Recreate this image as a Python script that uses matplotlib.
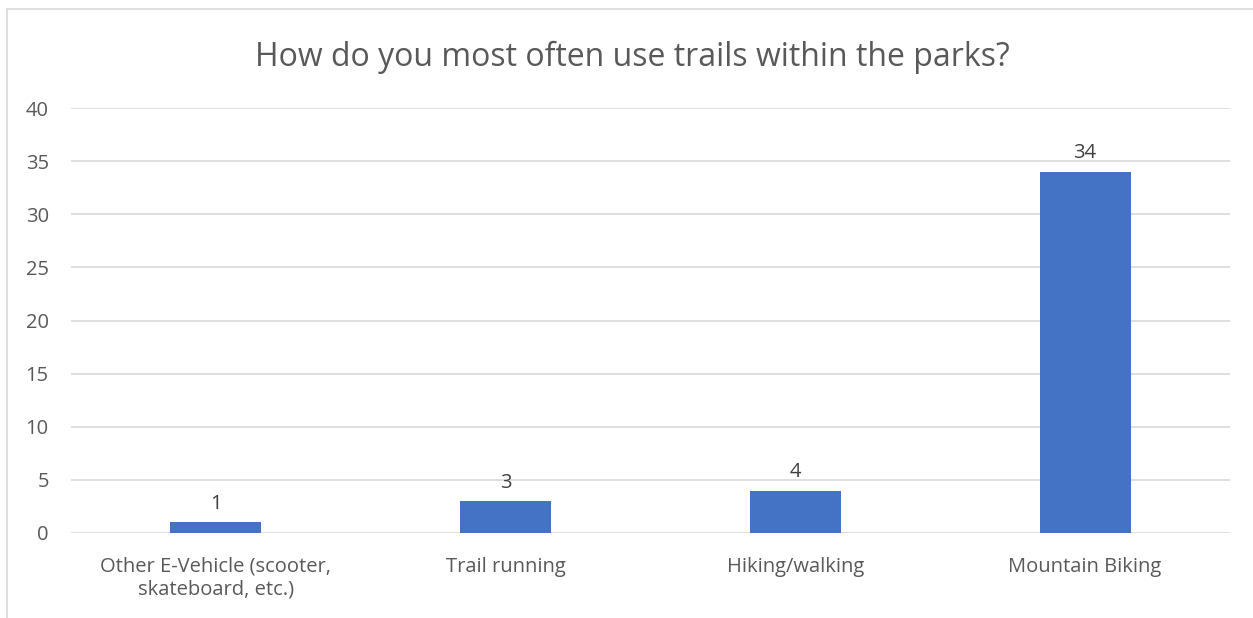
import matplotlib.pyplot as plt
from matplotlib.lines import Line2D

# Données
categories = ["Other E-Vehicle (scooter,\nskateboard, etc.)", "Trail running", "Hiking/walking", "Mountain Biking"]
counts = [1, 3, 4, 34]
y_ticks = [0, 5, 10, 15, 20, 25, 30, 35, 40]

plt.rcParams['font.family'] = ['Open Sans', 'DejaVu Sans']

fig = plt.figure(figsize=(12.53, 6.18), dpi=100)
ax = fig.add_axes([71 / 1253, (618 - 533) / 618, (1230 - 71) / 1253, (533 - 108) / 618])

x = range(len(categories))
bars = ax.bar(x, counts, width=0.314, color="#4472C4", zorder=3)
for b, v in zip(bars, counts):
    ax.text(b.get_x() + b.get_width() / 2, v + 0.8, str(v), ha="center", va="bottom",
            fontsize=14.5, color="#404040")

ax.set_xlim(-0.5, len(categories) - 0.5)
ax.set_ylim(0, 40)
ax.set_yticks(y_ticks)
ax.set_xticks(list(x))
ax.set_xticklabels(categories, fontsize=14.5, color="#595959", linespacing=1.2)
ax.tick_params(axis="y", labelsize=14.5, labelcolor="#595959", length=0, pad=16)
ax.tick_params(axis="x", length=0, pad=17)
ax.grid(axis="y", color="#D9D9D9", linewidth=1.2, zorder=0)
for s in ax.spines.values():
    s.set_visible(False)

fig.text(632 / 1253, 1 - 57 / 618, "How do you most often use trails within the parks?",
         ha="center", va="center", fontsize=23, color="#595959")

# Bordure du graphique
fig.add_artist(Line2D([7 / 1253, 7 / 1253], [0, 1 - 9 / 618], color="#D9D9D9", linewidth=1.2))
fig.add_artist(Line2D([7 / 1253, 1], [1 - 9 / 618, 1 - 9 / 618], color="#D9D9D9", linewidth=1.2))

fig.savefig("out.png", dpi=100)
